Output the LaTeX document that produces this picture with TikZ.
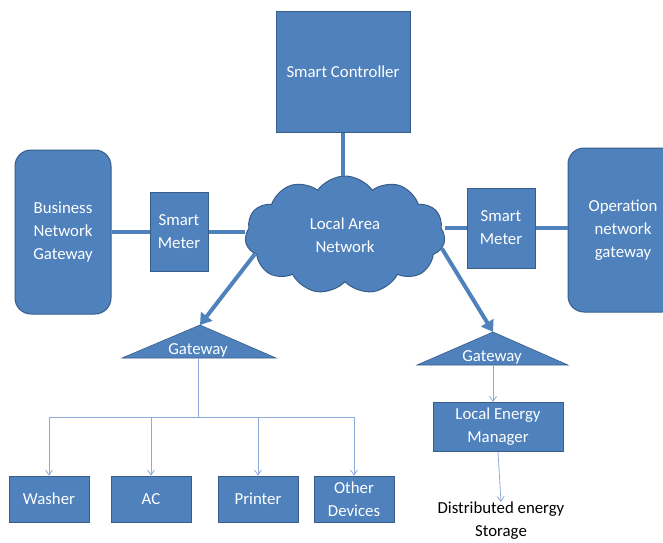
\documentclass[tikz,border=0pt]{standalone}
\usepackage{fontspec}
\setmainfont{Carlito}
\usetikzlibrary{arrows.meta,shapes.symbols}
\definecolor{boxblue}{HTML}{4F81BD}
\definecolor{edgeblue}{HTML}{385D8A}
\definecolor{thinblue}{HTML}{8EAADB}
\tikzset{
  blk/.style={draw=edgeblue, fill=boxblue, line width=1pt, text=white, align=center,
    font=\fontsize{16.8}{23}\selectfont, inner sep=0pt},
  link/.style={boxblue, line width=4.5pt},
  bigarrow/.style={boxblue, line width=4pt, -{Triangle[width=14pt,length=11pt]}},
  thinarrow/.style={thinblue, line width=0.8pt, -{Straight Barb[length=5pt,width=7pt]}},
  txt/.style={align=center, font=\fontsize{16.8}{23}\selectfont, inner sep=0pt}
}
\begin{document}
\begin{tikzpicture}[x=1pt,y=-1pt]
\useasboundingbox (0,0) rectangle (663,542);

% controller and cloud
\node[blk, minimum width=134, minimum height=121] (ctrl) at (343,72) {Smart Controller};
\node[cloud, cloud puffs=11, cloud puff arc=110, aspect=1.7, draw=edgeblue, fill=boxblue, line width=1pt,
  minimum width=200, minimum height=118, text=white, txt] (lan) at (345,235) {Local Area\\Network};
\draw[link] (ctrl.south) -- (ctrl.south |- lan.north);

% left side
\node[blk, rounded corners=16pt, minimum width=96, minimum height=164] (bng) at (63,232) {Business\\Network\\Gateway};
\node[blk, minimum width=58, minimum height=79] (lsm) at (179,232) {Smart\\Meter};
\draw[link] (bng.east) -- (lsm.west);
\draw[link] (lsm.east) -- (lsm.east -| lan.west);

% right side
\node[blk, rounded corners=16pt, minimum width=110, minimum height=164] (ong) at (623,230) {Operation\\network\\gateway};
\node[blk, minimum width=68, minimum height=80] (rsm) at (501,228) {Smart\\Meter};
\draw[link] (rsm.east) -- (rsm.east -| ong.west);
\draw[link] (rsm.west) -- (rsm.west -| lan.east);

% gateways
\draw[fill=boxblue, draw=edgeblue, line width=0.6pt] (200,325) -- (276,358) -- (122,358) -- cycle;
\coordinate (lgwtop) at (200,325);
\coordinate (lgwbot) at (198,358);
\node[txt, text=white] (lgw) at (198,350) {Gateway};
\draw[fill=boxblue, draw=edgeblue, line width=0.6pt] (493,332) -- (568,365) -- (417,365) -- cycle;
\coordinate (rgwtop) at (493,332);
\coordinate (rgwbot) at (493,365);
\node[txt, text=white] (rgw) at (492,357) {Gateway};
\draw[bigarrow] (lan.192) -- (lgwtop);
\draw[bigarrow] (lan.-8) -- (rgwtop);

% devices
\coordinate (split) at (198,417);
\draw[thinblue, line width=0.8pt] (lgwbot) -- (split);
\foreach \name/\x/\lbl in {wsh/49/Washer, ac/151/AC, prn/258/Printer, oth/354/{Other\\Devices}}{
  \node[blk, line width=0.8pt, minimum width=80, minimum height=46] (\name) at (\x,499) {\lbl};
  \draw[thinarrow] (split) -| (\name.north);
}

% energy side
\node[blk, minimum width=130, minimum height=49] (lem) at (498,427) {Local Energy\\Manager};
\draw[thinarrow] (rgwbot) -- (rgwbot |- lem.north);
\node[txt] (des) at (501,521) {Distributed energy\\Storage};
\draw[thinarrow] (lem.south) -- (des.north);
\end{tikzpicture}
\end{document}
